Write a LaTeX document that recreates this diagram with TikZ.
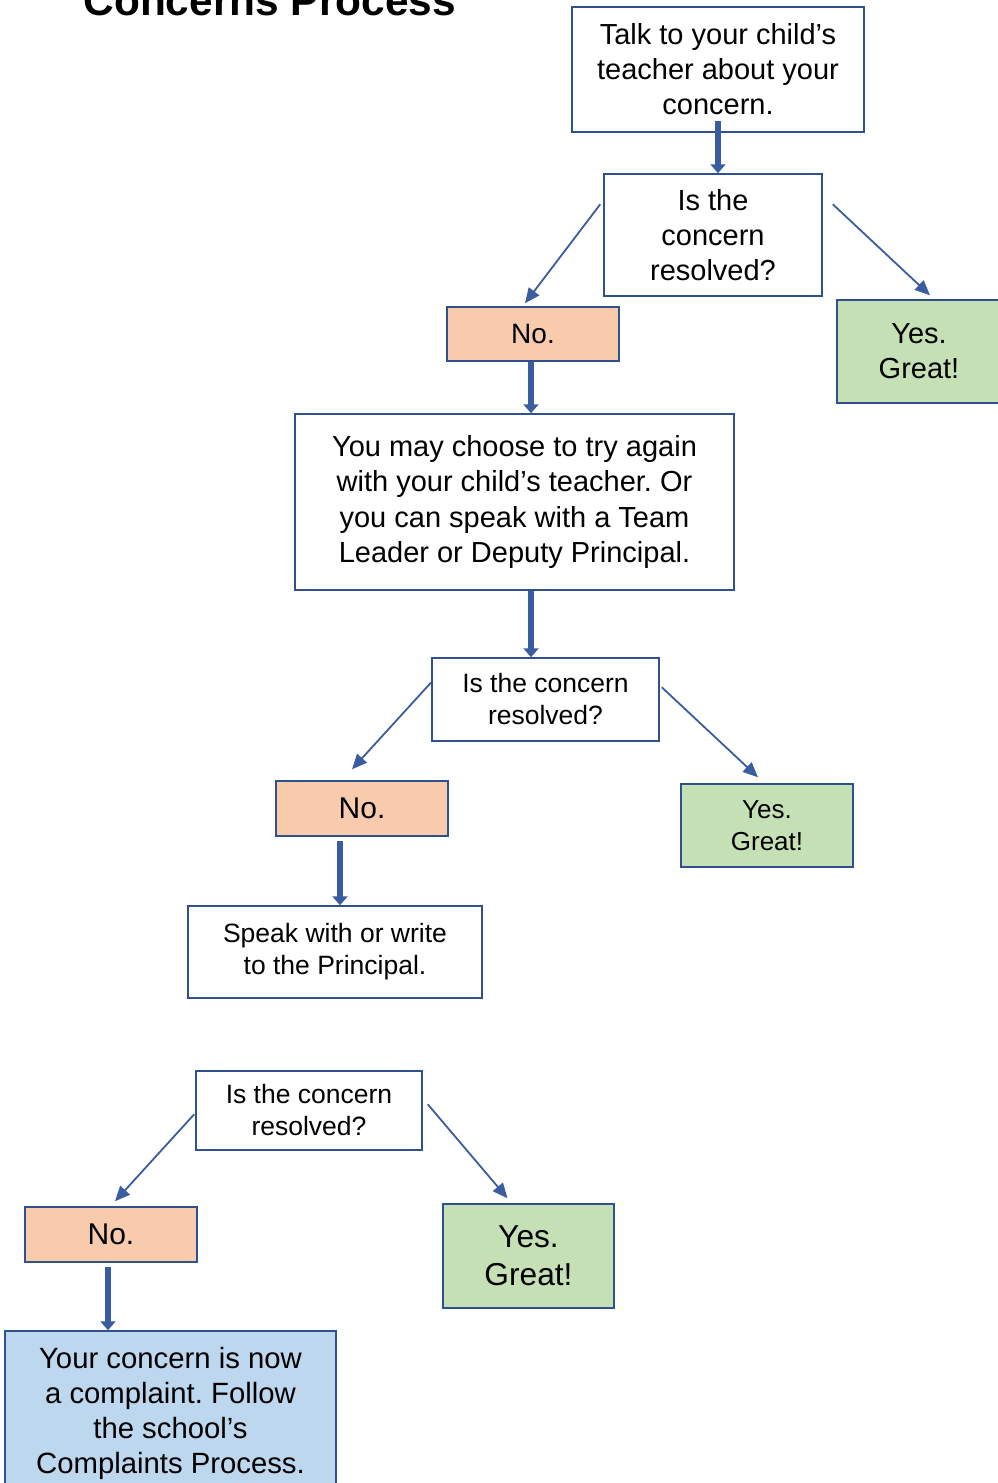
\documentclass[tikz,border=0pt]{standalone}
\usepackage{fontspec}
\setmainfont{Liberation Sans}
\usetikzlibrary{arrows.meta,positioning}
\definecolor{boxline}{HTML}{2F528F}
\definecolor{arrowblue}{HTML}{3A5DA0}
\definecolor{nofill}{HTML}{F8CBAD}
\definecolor{yesfill}{HTML}{C5E0B4}
\definecolor{endfill}{HTML}{BDD7EE}

\begin{document}
\frenchspacing
\begin{tikzpicture}[x=1pt,y=-1pt,
  box/.style={draw=boxline,line width=1.5pt,rectangle,inner sep=0pt,align=center,fill=white},
  nobox/.style={box,fill=nofill},
  yesbox/.style={box,fill=yesfill},
  endbox/.style={box,fill=endfill},
  bigtxt/.style={font=\fontsize{29}{35}\selectfont},
  smalltxt/.style={font=\fontsize{26.5}{32}\selectfont},
  stepdown/.style={draw=arrowblue,line width=5.5pt,-{Triangle[width=15pt,length=9pt]}},
  branch/.style={draw=arrowblue,line width=1.8pt,-{Triangle[width=13pt,length=15pt]}}]
\useasboundingbox (0,0) rectangle (998,1483);
\clip (0,0) rectangle (998,1483);

%title
\node[anchor=base west,font=\bfseries\fontsize{42.4}{50}\selectfont] (Title) at (80,15) {Concerns Process};

%first round
\node[box,bigtxt,minimum width=292pt,minimum height=125pt] (Talk) at (718,69.5) {Talk to your child’s\\teacher about your\\concern.};
\node[box,bigtxt,minimum width=218pt,minimum height=122pt] (Q1) at (713,235) {Is the\\concern\\resolved?};
\node[nobox,font=\fontsize{28}{34}\selectfont,minimum width=172pt,minimum height=54pt] (No1) at (533,334) {No.};
\node[yesbox,bigtxt,minimum width=164pt,minimum height=103pt] (Yes1) at (919,351.5) {Yes.\\Great!};
\node[box,font=\fontsize{29}{35.3}\selectfont,minimum width=439pt,minimum height=176pt] (Team) at (514.5,502) {You may choose to try again\\with your child’s teacher. Or\\you can speak with a Team\\Leader or Deputy Principal.};

%second round
\node[box,smalltxt,minimum width=227pt,minimum height=83pt] (Q2) at (545.5,699.5) {Is the concern\\resolved?};
\node[nobox,font=\fontsize{30}{36}\selectfont,minimum width=172pt,minimum height=55pt] (No2) at (362,808.5) {No.};
\node[yesbox,font=\fontsize{26}{32}\selectfont,minimum width=172pt,minimum height=83pt] (Yes2) at (767,825.5) {Yes.\\Great!};
\node[box,smalltxt,minimum width=294pt,minimum height=92pt] (Principal) at (335,952) {Speak with or write\\to the Principal.};

%third round
\node[box,smalltxt,minimum width=226pt,minimum height=79pt] (Q3) at (309,1110.5) {Is the concern\\resolved?};
\node[nobox,font=\fontsize{30}{36}\selectfont,minimum width=172pt,minimum height=55pt] (No3) at (111,1234.5) {No.};
\node[yesbox,font=\fontsize{31.7}{38}\selectfont,minimum width=171pt,minimum height=104pt] (Yes3) at (528.5,1256) {Yes.\\Great!};
\node[endbox,font=\fontsize{29.3}{35}\selectfont,minimum width=331pt,minimum height=164pt] (Complaint) at (170.5,1413) {Your concern is now\\a complaint. Follow\\the school’s\\Complaints Process.};

%arrows down
\draw[stepdown] ([yshift=12pt]Talk.south) -- (Talk.south |- Q1.north);
\draw[stepdown] ([xshift=-2pt]No1.south) -- ([xshift=-2pt]No1.south |- Team.north);
\draw[stepdown] ([xshift=16.5pt]Team.south) -- ([xshift=16.5pt]Team.south |- Q2.north);
\draw[stepdown] ([xshift=-22pt,yshift=-4pt]No2.south) -- ([xshift=-22pt]No2.south |- Principal.north);
\draw[stepdown] ([xshift=-3pt,yshift=-4pt]No3.south) -- ([xshift=-3pt]No3.south |- Complaint.north);

%yes or no
\draw[branch] ([shift={(-3,31)}]Q1.north west) -- ([shift={(-8,-3)}]No1.north);
\draw[branch] ([shift={(10,31)}]Q1.north east) -- ([shift={(11,-4)}]Yes1.north);
\draw[branch] ([shift={(0,25)}]Q2.north west) -- ([shift={(-10,-11)}]No2.north);
\draw[branch] ([shift={(2,30)}]Q2.north east) -- ([shift={(-9,-6)}]Yes2.north);
\draw[branch] ([shift={(-1,44)}]Q3.north west) -- ([shift={(4,-5)}]No3.north);
\draw[branch] ([shift={(5,34)}]Q3.north east) -- ([shift={(-21,-5)}]Yes3.north);
\end{tikzpicture}
\end{document}
